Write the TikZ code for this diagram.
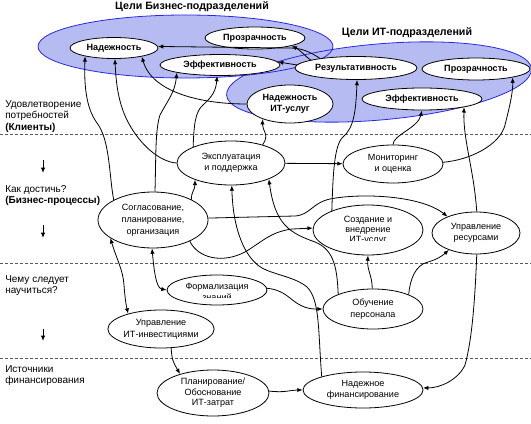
\documentclass[tikz,border=0pt]{standalone}
\usepackage{fontspec}
\setmainfont{Liberation Sans}
\usetikzlibrary{shapes.geometric,arrows.meta}
\definecolor{zonefill}{RGB}{182,188,242}
\definecolor{zoneline}{RGB}{40,40,230}
\tikzset{
  goal/.style 2 args={ellipse, draw, fill=white, line width=0.6pt, inner sep=0pt,
    minimum width=#1*1.5pt, minimum height=#2*1.5pt,
    font=\fontsize{6.8}{8}\selectfont\bfseries, align=center},
  proc/.style 2 args={ellipse, draw, fill=white, line width=0.6pt, inner sep=0pt,
    minimum width=#1*1.5pt, minimum height=#2*1.5pt,
    font=\fontsize{6.8}{8.5}\selectfont, align=center},
  proctext/.style={inner sep=0pt, align=center},
  conn/.style={line width=0.6pt, -{Latex[length=4pt,width=3.2pt]}},
  bidir/.style={line width=0.6pt, {Latex[length=4pt,width=3.2pt]}-{Latex[length=4pt,width=3.2pt]}},
  dashsep/.style={dash pattern=on 2.25pt off 1.5pt, line width=0.6pt, black!65},
  sidetxt/.style={anchor=north west, align=left, font=\fontsize{7.5}{8.8}\selectfont, inner sep=0pt},
  ttl/.style={font=\fontsize{8}{9}\selectfont\bfseries, inner sep=0pt},
  zone/.style={fill=zonefill},
  zoneedge/.style={draw=zoneline, line width=0.6pt},
}
\begin{document}
\begin{tikzpicture}[x=0.75pt,y=-0.75pt]
\useasboundingbox (0,0) rectangle (531,424);
\clip (0,0) rectangle (531,424);
% goal zones
\fill[zone] (185.5,46.5) ellipse [x radius=147.5, y radius=31.5];
\fill[zone, rotate around={5:(379,82)}] (379,82) ellipse [x radius=153, y radius=38];
\draw[zoneedge] (185.5,46.5) ellipse [x radius=147.5, y radius=31.5];
\draw[zoneedge, rotate around={5:(379,82)}] (379,82) ellipse [x radius=153, y radius=38];
% titles
\node[ttl] (t1) at (192,6.5) {Цели Бизнес-подразделений};
\node[ttl] (t2) at (407,33) {Цели ИТ-подразделений};
% separators
\coordinate (d1a) at (0,134); \coordinate (d1b) at (531,134);
\coordinate (d2a) at (0,263); \coordinate (d2b) at (531,263);
\coordinate (d3a) at (0,358); \coordinate (d3b) at (531,358);
\draw[dashsep] (d1a) -- (d1b);
\draw[dashsep] (d2a) -- (d2b);
\draw[dashsep] (d3a) -- (d3b);
% side labels
\node[sidetxt] (s1) at (5,100) {Удовлетворение\\потребностей\\\textbf{(Клиенты)}};
\node[sidetxt] (s2) at (5,185) {Как достичь?\\\textbf{(Бизнес-процессы)}};
\node[sidetxt] (s3) at (5,275) {Чему следует\\научиться?};
\node[sidetxt] (s4) at (5,365) {Источники\\финансирования};
\coordinate (a1s) at (43,160); \coordinate (a1e) at (43,173);
\coordinate (a2s) at (43,225); \coordinate (a2e) at (43,238);
\coordinate (a3s) at (43,329); \coordinate (a3e) at (43,341);
\draw[conn] (a1s) -- (a1e);
\draw[conn] (a2s) -- (a2e);
\draw[conn] (a3s) -- (a3e);
% goal nodes
\node[goal={44}{10.5}] (nadB) at (114,48) {Надежность};
\node[goal={50}{11}] (prozB) at (255,38) {Прозрачность};
\node[goal={60}{10.5}] (effB) at (220,65) {Эффективность};
\node[goal={61}{11.5}] (rezIT) at (356,68) {Результативность};
\node[goal={54}{11}] (prozIT) at (476,69) {Прозрачность};
\node[goal={60}{11}] (effIT) at (422,99) {Эффективность};
\node[goal={43}{19}] (nadIT) at (290,104) {Надежность\\ИТ-услуг};
% process nodes
\node[proc={54}{22}] (expl) at (231,163) {Эксплуатация\\и поддержка};
\node[proc={50}{19}] (mon) at (393,164) {Мониторинг\\и оценка};
\node[proc={55}{28}, font=\fontsize{6.8}{9}\selectfont] (sogl) at (153,220) {Согласование,\\планирование,\\организация};
\node[proc={55}{25}] (sozd) at (368,230) {};
\node[proc={44}{21}] (upres) at (476,233) {Управление\\ресурсами};
\node[proc={50}{15}] (form) at (217,290) {};
\node[proc={50}{20}] (obuch) at (373,309) {Обучение\\персонала};
\node[proc={53}{19}, font=\fontsize{6.8}{9.2}\selectfont] (upinv) at (161,329) {Управление\\ИТ-инвестициями};
\node[proc={56}{23}, font=\fontsize{6.8}{7.9}\selectfont] (plan) at (213,393) {Планирование/\\Обоснование\\ИТ-затрат};
\node[proc={60}{18}] (fin) at (363,390) {Надежное\\финансирование};
\begin{scope}
\clip (310,205) rectangle (430,240.5);
\node[proctext, font=\fontsize{6.8}{7.5}\selectfont] (sozdT) at (368,230) {Создание и\\внедрение\\ИТ-услуг};
\end{scope}
\begin{scope}
\clip (165,275) rectangle (270,297.5);
\node[proctext, font=\fontsize{6.8}{8.25}\selectfont] (formT) at (217,292) {Формализация\\знаний};
\end{scope}
% connectors to business goals
\draw[conn] (sogl.153) .. controls (109,175) and (110,140) .. (97,123) .. controls (86,108) and (84,85) .. (nadB.196);
\draw[conn] (expl.180) .. controls (160,162) and (140,145) .. (128,122) .. controls (119,105) and (116,85) .. (nadB.275);
\draw[conn] (nadIT.180) .. controls (200,104) and (152,92) .. (nadB.343);
\draw[conn] (sogl.86) .. controls (156,160) and (155,130) .. (160,115) .. controls (168,100) and (175,92) .. (effB.190);
\draw[conn] (expl.157) .. controls (194,125) and (195,112) .. (203,105) .. controls (213,96) and (216,90) .. (effB.255);
\draw[conn] (expl.30) .. controls (270,135) and (262,130) .. (nadIT.209);
\draw[conn] (rezIT.165) .. controls (310,52) and (302,48) .. (290,48) -- (nadB.2);
\draw[conn] (rezIT.170) .. controls (305,56) and (300,50) .. (prozB.348);
\draw[conn] (rezIT.177) -- (effB.3);
% connectors to IT goals
\draw[conn] (sozd.152) .. controls (333,175) and (334,145) .. (343,137) .. controls (354,128) and (356,110) .. (rezIT.275);
\draw[conn] (mon.90) .. controls (393,135) and (418,128) .. (effIT.270);
\draw[conn] (upres.88) .. controls (474,170) and (463,140) .. (effIT.349);
\draw[conn] (mon.2) .. controls (470,160) and (500,145) .. (505,125) .. controls (510,105) and (513,92) .. (prozIT.347);
% process connectors
\draw[conn] (expl) -- (mon);
\draw[conn] (sogl.28) .. controls (191,192) and (195,190) .. (expl.205);
\draw[conn] (fin.162) .. controls (318,330) and (320,300) .. (307,287) .. controls (295,277) and (275,275) .. (262,268) .. controls (245,258) and (233,230) .. (expl.272);
\draw[conn] (obuch.157) .. controls (337,270) and (335,250) .. (315,242) .. controls (290,233) and (275,225) .. (expl.337);
\draw[conn] (sogl.2) -- (295,216) .. controls (310,215) and (312,203) .. (330,199) .. controls (360,193) and (420,195) .. (upres.150);
\draw[conn] (sogl.330) .. controls (198,258) and (222,264) .. (245,252) .. controls (262,242) and (270,232) .. (292,229) -- (sozd.178);
\draw[conn] (obuch.92) .. controls (372,275) and (367,270) .. (sozd.270);
\draw[conn] (obuch.22) .. controls (410,280) and (415,265) .. (428,262) .. controls (438,259) and (442,256) .. (upres.212);
\draw[conn] (upres.272) .. controls (475,300) and (472,340) .. (465,365) .. controls (458,380) and (440,388) .. (fin.2);
\draw[conn] (form.2) .. controls (285,290) and (290,300) .. (300,305) .. controls (308,309) and (312,309) .. (obuch.180);
\draw[bidir] (sogl.203) .. controls (117,260) and (123,270) .. (124,285) .. controls (125,298) and (126,305) .. (upinv.155);
\draw[bidir] (sogl.268) .. controls (154,270) and (156,288) .. (form.180);
\draw[conn] (upinv.298) .. controls (172,360) and (173,362) .. (plan.150);
\draw[conn] (plan.2) .. controls (285,393) and (290,390) .. (fin.180);
\end{tikzpicture}
\end{document}
